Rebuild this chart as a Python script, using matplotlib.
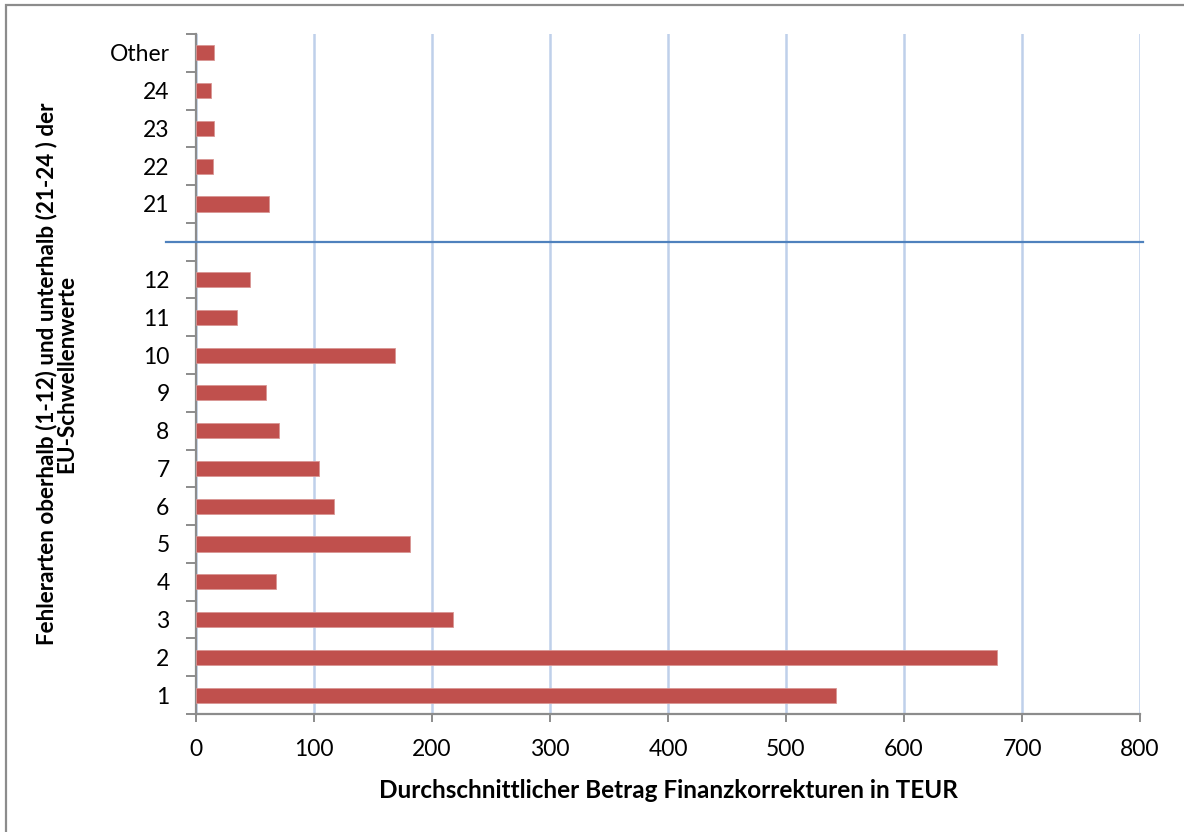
import numpy as np
import matplotlib
matplotlib.use("Agg")
import matplotlib.pyplot as plt
from matplotlib.patches import Rectangle

plt.rcParams['font.family'] = ['Lato', 'DejaVu Sans']

# Fehlerarten, von unten nach oben; der leere Eintrag trennt die beiden Gruppen
categories = ['1', '2', '3', '4', '5', '6', '7', '8', '9', '10', '11', '12',
              '', '21', '22', '23', '24', 'Other']
values = [542.5, 679, 218, 68, 181, 117, 104.5, 70.5, 59, 169, 34.5, 45.5,
          np.nan, 62, 14.5, 15.5, 12.5, 15.5]
x_ticks = [0, 100, 200, 300, 400, 500, 600, 700, 800]
sep_index = 12

bar_color = '#C0504D'
grid_color = '#BFD0EA'
axis_color = '#8C8C8C'
sep_color = '#4F81BD'

fig = plt.figure(figsize=(11.84, 8.32), dpi=100)
ax = fig.add_axes([196 / 1184, 1 - 714 / 832, (1140 - 196) / 1184, (714 - 34) / 832])

y = np.arange(len(categories))
vals = np.array(values, dtype=float)
mask = ~np.isnan(vals)
ax.barh(y[mask], vals[mask], height=0.4, color=bar_color,
        edgecolor='#D99694', linewidth=0.6, zorder=3)

# Trennlinie zwischen oberhalb und unterhalb der Schwellenwerte
ax.plot([-25.5, 802.5], [sep_index, sep_index], color=sep_color, lw=1.6,
        clip_on=False, zorder=4)

ax.set_xlim(0, 800)
ax.set_ylim(-0.5, len(categories) - 0.5)
ax.set_xticks(x_ticks)
ax.set_xticklabels([str(t) for t in x_ticks], fontsize=16.5)
ax.set_yticks(y)
ax.set_yticklabels(categories, fontsize=16.5)
ax.set_yticks(np.arange(-0.5, len(categories)), minor=True)

ax.xaxis.grid(True, color=grid_color, lw=1.8, zorder=0)
ax.set_axisbelow(True)

for side in ['top', 'right']:
    ax.spines[side].set_visible(False)
for side in ['left', 'bottom']:
    ax.spines[side].set_color(axis_color)
    ax.spines[side].set_linewidth(1.6)

ax.tick_params(axis='y', which='major', length=0, pad=19)
ax.tick_params(axis='y', which='minor', length=7, width=1.4, color=axis_color)
ax.tick_params(axis='x', which='major', length=6, width=1.4, color=axis_color, pad=12)

ax.set_xlabel('Durchschnittlicher Betrag Finanzkorrekturen in TEUR',
              fontsize=17.5, fontweight='bold', labelpad=14)
ax.set_ylabel('Fehlerarten oberhalb (1-12) und unterhalb (21-24 ) der\nEU-Schwellenwerte',
              fontsize=16.2, fontweight='bold', labelpad=23, linespacing=0.95)

# Rahmen um den Diagrammbereich
fig.patches.append(Rectangle((6 / 1184, -0.1), 1.2, 1 - 5 / 832 + 0.1,
                             transform=fig.transFigure, fill=False,
                             edgecolor=axis_color, lw=1.6))

fig.savefig('out.png', dpi=100)
